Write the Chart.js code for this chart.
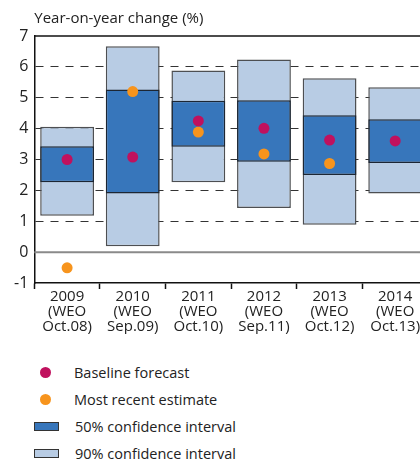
<!DOCTYPE html>
<html>
<head>
<meta charset="utf-8">
<script src="https://cdn.jsdelivr.net/npm/chart.js@4"></script>
<style>
  html, body { margin: 0; padding: 0; background: #fff; overflow: hidden; }
  body { width: 420px; height: 459px; position: relative; font-family: "Open Sans", sans-serif; }
  #wrap { position: absolute; left: 0; top: 0; width: 436px; height: 334px; }
  #legend { position: absolute; left: 34px; top: 359px; color: #222; font-size: 14.5px; }
  .row { height: 27px; display: flex; align-items: center; }
  .dot { width: 11px; height: 11px; border-radius: 50%; margin-left: 6px; margin-right: 23px; }
  .box { width: 23px; height: 7px; border: 1px solid #333; margin-right: 16px; }
</style>
</head>
<body>
<div id="wrap"><canvas id="chart"></canvas></div>
<div id="legend"></div>
<script>
const categories = [
    ["2009", "(WEO", "Oct.08)"],
    ["2010", "(WEO", "Sep.09)"],
    ["2011", "(WEO", "Oct.10)"],
    ["2012", "(WEO", "Sep.11)"],
    ["2013", "(WEO", "Oct.12)"],
    ["2014", "(WEO", "Oct.13)"]
];
const ci90Low = [1.18, 0.19, 2.26, 1.43, 0.89, 1.90];
const ci90High = [4.06, 6.67, 5.88, 6.24, 5.63, 5.34];
const ci50Low = [2.26, 1.90, 3.41, 2.93, 2.50, 2.89];
const ci50High = [3.43, 5.27, 4.90, 4.92, 4.43, 4.30];
const baseline = [3.00, 3.08, 4.25, 4.01, 3.63, 3.60];
const recent = [-0.51, 5.20, 3.89, 3.18, 2.87, null];
const yMin = -1, yMax = 7;

const blueDark = "#3776bb";
const blueLight = "#b8cce4";
const magenta = "#c0115e";
const orange = "#f7941d";

// solid zero line and top frame line
const extraLines = {
    id: "extraLines",
    beforeDatasetsDraw(chart) {
        const { ctx, chartArea, scales } = chart;
        const y0 = scales.y.getPixelForValue(0);
        ctx.save();
        ctx.strokeStyle = "#8a8a8a";
        ctx.lineWidth = 2;
        ctx.beginPath();
        ctx.moveTo(chartArea.left, y0);
        ctx.lineTo(chartArea.right, y0);
        ctx.stroke();
        ctx.strokeStyle = "#111";
        ctx.lineWidth = 1.5;
        const yt = scales.y.getPixelForValue(yMax);
        ctx.beginPath();
        ctx.moveTo(chartArea.left, yt);
        ctx.lineTo(chartArea.right, yt);
        ctx.stroke();
        ctx.restore();
    }
};

const ctx = document.getElementById("chart").getContext("2d");
new Chart(ctx, {
    data: {
        labels: categories,
        datasets: [
            {
                type: "line",
                label: "Baseline forecast",
                data: baseline,
                showLine: false,
                pointRadius: 5.5,
                pointBackgroundColor: magenta,
                pointBorderWidth: 0,
                order: 0
            },
            {
                type: "line",
                label: "Most recent estimate",
                data: recent,
                showLine: false,
                pointRadius: 5.5,
                pointBackgroundColor: orange,
                pointBorderWidth: 0,
                order: 0
            },
            {
                type: "bar",
                label: "50% confidence interval",
                data: ci50Low.map((v, i) => [v, ci50High[i]]),
                backgroundColor: blueDark,
                borderColor: "#1c2633",
                borderWidth: 1.5,
                borderSkipped: false,
                grouped: false,
                barPercentage: 0.82,
                categoryPercentage: 1,
                order: 1
            },
            {
                type: "bar",
                label: "90% confidence interval",
                data: ci90Low.map((v, i) => [v, ci90High[i]]),
                backgroundColor: blueLight,
                borderColor: "#4d4f52",
                borderWidth: 1.5,
                borderSkipped: false,
                grouped: false,
                barPercentage: 0.82,
                categoryPercentage: 1,
                order: 2
            }
        ]
    },
    plugins: [extraLines],
    options: {
        responsive: true,
        maintainAspectRatio: false,
        animation: false,
        layout: { padding: { left: 8, right: 8, top: 10, bottom: 0 } },
        plugins: {
            legend: { display: false },
            tooltip: { enabled: false },
            title: {
                display: true,
                text: "Year-on-year change (%)",
                align: "start",
                fullSize: false,
                color: "#222",
                font: { family: "Open Sans", size: 15, weight: "normal" },
                padding: { top: 0, bottom: 8 }
            }
        },
        scales: {
            x: {
                offset: true,
                grid: {
                    offset: true,
                    drawOnChartArea: false,
                    drawTicks: true,
                    tickLength: 6,
                    tickColor: "#111",
                    tickWidth: 1.5
                },
                border: { display: true, color: "#111", width: 1.5 },
                ticks: {
                    color: "#222",
                    padding: 0,
                    maxRotation: 0,
                    autoSkip: false,
                    font: { family: "Open Sans", size: 15, lineHeight: 1.0 }
                }
            },
            y: {
                min: yMin,
                max: yMax,
                ticks: {
                    stepSize: 1,
                    color: "#222",
                    padding: 6,
                    font: { family: "Open Sans", size: 16 }
                },
                grid: {
                    drawTicks: false,
                    color: c => (c.tick && (c.tick.value === 0 || c.tick.value === yMax || c.tick.value === yMin)) ? "transparent" : "#333",
                    lineWidth: 1
                },
                border: { display: true, color: "#111", width: 1.5, dash: [8, 7] }
            }
        }
    }
});

const legendItems = [
    { kind: "dot", color: magenta, text: "Baseline forecast" },
    { kind: "dot", color: orange, text: "Most recent estimate" },
    { kind: "box", color: blueDark, text: "50% confidence interval" },
    { kind: "box", color: blueLight, text: "90% confidence interval" }
];
const legend = document.getElementById("legend");
legendItems.forEach(item => {
    const row = document.createElement("div");
    row.className = "row";
    const mark = document.createElement("span");
    mark.className = item.kind;
    mark.style.background = item.color;
    row.appendChild(mark);
    const label = document.createElement("span");
    label.textContent = item.text;
    row.appendChild(label);
    legend.appendChild(row);
});
</script>
</body>
</html>
